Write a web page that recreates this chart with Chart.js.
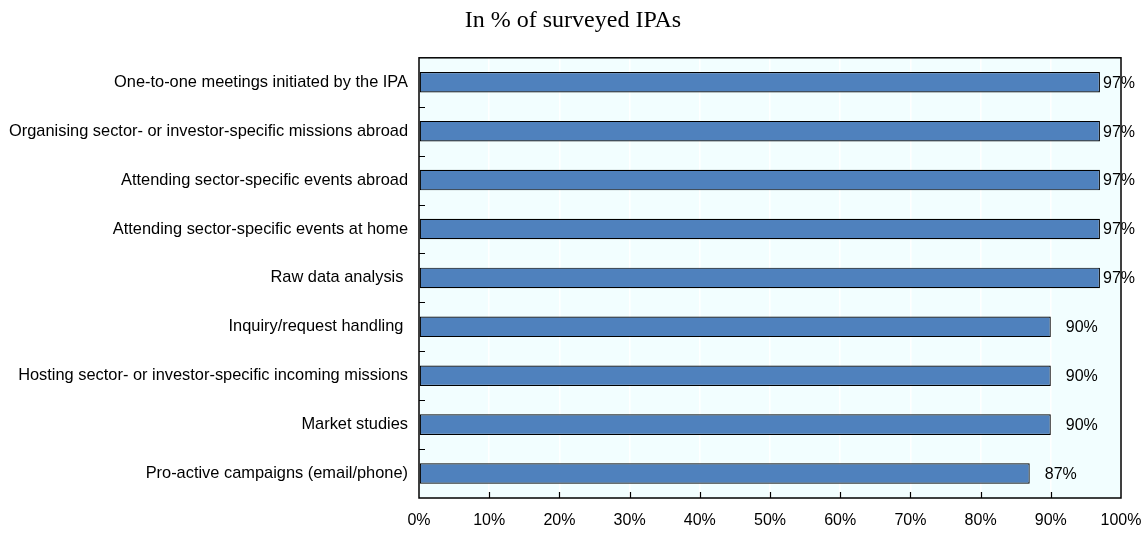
<!DOCTYPE html>
<html>
<head>
<meta charset="utf-8">
<script src="https://cdn.jsdelivr.net/npm/chart.js@4"></script>
<style>
  html, body { margin: 0; padding: 0; background: #fff; }
  #wrap { width: 1146px; height: 533px; }
</style>
</head>
<body>
<div id="wrap"><canvas id="chart"></canvas></div>
<script>
"use strict";

var categories = [
	'One-to-one meetings initiated by the IPA',
	'Organising sector- or investor-specific missions abroad',
	'Attending sector-specific events abroad',
	'Attending sector-specific events at home',
	'Raw data analysis ',
	'Inquiry/request handling ',
	'Hosting sector- or investor-specific incoming missions',
	'Market studies',
	'Pro-active campaigns (email/phone)'
];
var shares = [97, 97, 97, 97, 97, 90, 90, 90, 87];
var xTicks = [0, 10, 20, 30, 40, 50, 60, 70, 80, 90, 100];

var labelFont = '"Liberation Sans Narrow", "Arial Narrow", "Liberation Sans", Arial, sans-serif';

// plot frame, background, inward tick marks, value labels
var framePlugin = {
	id: 'frame',
	beforeDraw: function(chart) {
		var a = chart.chartArea, ctx = chart.ctx;
		ctx.save();
		ctx.fillStyle = '#F2FEFF';
		ctx.fillRect(a.left, a.top, a.right - a.left, a.bottom - a.top);
		ctx.restore();
	},
	afterDatasetsDraw: function(chart) {
		var a = chart.chartArea, ctx = chart.ctx;
		var xs = chart.scales.x, ys = chart.scales.y;
		ctx.save();
		ctx.strokeStyle = '#000';
		ctx.lineWidth = 1.5;
		ctx.strokeRect(a.left, a.top, a.right - a.left, a.bottom - a.top);

		ctx.lineWidth = 1.2;
		ctx.beginPath();
		for (var i = 1; i < xTicks.length - 1; i++) {
			var px = Math.round(xs.getPixelForValue(xTicks[i])) + 0.5;
			ctx.moveTo(px, a.bottom);
			ctx.lineTo(px, a.bottom - 6);
		}
		for (var j = 1; j < categories.length; j++) {
			var py = Math.round((ys.getPixelForValue(j - 1) + ys.getPixelForValue(j)) / 2) + 0.5;
			ctx.moveTo(a.left, py);
			ctx.lineTo(a.left + 6, py);
		}
		ctx.stroke();

		ctx.fillStyle = '#000';
		ctx.font = '16px ' + labelFont;
		ctx.textBaseline = 'middle';
		ctx.textAlign = 'left';
		var meta = chart.getDatasetMeta(0);
		meta.data.forEach(function(bar, k) {
			var txt = shares[k] + '%';
			var w = ctx.measureText(txt).width;
			var lx = Math.min(bar.x + 15, chart.width - 11 - w);
			ctx.fillText(txt, lx, bar.y + 1);
		});
		ctx.restore();
	}
};

new Chart(document.getElementById('chart').getContext('2d'), {
	type: 'bar',
	data: {
		labels: categories,
		datasets: [{
			data: shares,
			backgroundColor: '#4F81BD',
			borderColor: '#000',
			borderWidth: 1.2,
			borderSkipped: false,
			categoryPercentage: 1,
			barPercentage: 0.42
		}]
	},
	options: {
		indexAxis: 'y',
		responsive: true,
		maintainAspectRatio: false,
		animation: false,
		layout: { padding: 0 },
		plugins: {
			legend: { display: false },
			tooltip: { enabled: false },
			title: {
				display: true,
				text: 'In % of surveyed IPAs',
				color: '#000',
				font: { family: '"Liberation Serif", "Times New Roman", serif', size: 24, weight: 'normal' },
				padding: { top: 6, bottom: 23 }
			}
		},
		scales: {
			x: {
				min: 0,
				max: 100,
				afterBuildTicks: function(scale) {
					scale.ticks = xTicks.map(function(v) { return { value: v }; });
				},
				afterFit: function(scale) {
					scale.height = 35;
					scale.paddingLeft = 0;
					scale.paddingRight = 25;
				},
				grid: { color: '#FFFFFF', lineWidth: 1.5, drawTicks: false },
				border: { display: false },
				ticks: {
					color: '#000',
					padding: 13,
					maxRotation: 0,
					font: { family: labelFont, size: 16 },
					callback: function(v) { return v + '%'; }
				}
			},
			y: {
				afterFit: function(scale) { scale.width = 419; },
				grid: { display: false, drawTicks: false },
				border: { display: false },
				ticks: {
					color: '#000',
					padding: 11,
					autoSkip: false,
					font: { family: labelFont, size: 16.4 }
				}
			}
		}
	},
	plugins: [framePlugin]
});
</script>
</body>
</html>
